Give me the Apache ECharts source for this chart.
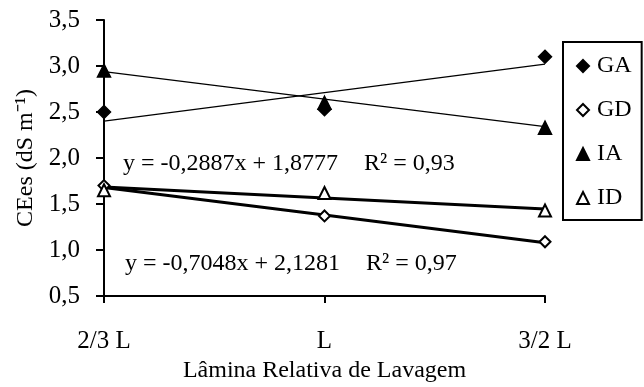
<!DOCTYPE html>
<html>
<head>
<meta charset="utf-8">
<script src="https://cdn.jsdelivr.net/npm/echarts@6/dist/echarts.min.js"></script>
<style>
  html, body { margin: 0; padding: 0; background: #fff; }
  #chart { width: 644px; height: 387px; }
</style>
</head>
<body>
<div id="chart"></div>
<script>
const categories = ["2/3 L", "L", "3/2 L"];

// observed points
const gaValues = [2.50, 2.53, 3.10];
const gdValues = [1.70, 1.37, 1.09];
const iaValues = [2.95, 2.60, 2.33];
const idValues = [1.65, 1.62, 1.43];

// trend lines
const gaTrend = [2.40, 2.71, 3.02];
const iaTrend = [2.94, 2.64, 2.34];
const idTrend = [1.685, 1.565, 1.445];
const gdTrend = [1.68, 1.38, 1.08];

const yTicks = { min: 0.5, max: 3.5, interval: 0.5 };

const eqId = "y = -0,2887x + 1,8777";
const r2Id = "R\u00B2 = 0,93";
const eqGd = "y = -0,7048x + 2,1281";
const r2Gd = "R\u00B2 = 0,97";

const font = "Liberation Serif";
const chart = echarts.init(document.getElementById("chart"), null, { renderer: "canvas" });

const pointSeries = (name, data, symbol, size) => ({
  type: "line",
  name,
  data,
  symbol,
  symbolSize: size,
  lineStyle: { width: 0, opacity: 0 },
  itemStyle: { color: "#000", borderColor: "#000", borderWidth: 1.5 },
  z: 5,
});

const trendSeries = (data, width) => ({
  type: "line",
  data,
  symbol: "none",
  lineStyle: { color: "#000", width },
  silent: true,
  z: 3,
});

const eqText = (text, left, y) => ({
  type: "text",
  left,
  top: y - 12,
  style: { text, fontFamily: font, fontSize: 24, fill: "#000" },
});

const options = {
  backgroundColor: "#fff",
  animation: false,
  textStyle: { fontFamily: font, color: "#000" },
  grid: {
    left: 104,
    right: 99,
    top: 20,
    bottom: 91,
    containLabel: false,
    outerBoundsMode: "none",
  },
  legend: {
    orient: "vertical",
    left: 563,
    top: 42,
    padding: [12, 10, 10, 13],
    itemGap: 20,
    itemWidth: 12,
    itemHeight: 12,
    borderColor: "#000",
    borderWidth: 2,
    textStyle: { fontFamily: font, fontSize: 24, color: "#000", padding: [0, 0, 0, 3] },
    data: [
      { name: "GA", icon: "diamond" },
      { name: "GD", icon: "emptyDiamond" },
      { name: "IA", icon: "triangle" },
      { name: "ID", icon: "emptyTriangle" },
    ],
  },
  xAxis: {
    type: "category",
    data: categories,
    boundaryGap: false,
    name: "Lâmina Relativa de Lavagem",
    nameLocation: "middle",
    nameGap: 62,
    nameTextStyle: { fontFamily: font, fontSize: 24, color: "#000" },
    axisLine: { lineStyle: { color: "#000", width: 2 } },
    axisTick: { show: true, length: 7, lineStyle: { color: "#000", width: 2 } },
    axisLabel: { fontFamily: font, fontSize: 25, color: "#000", margin: 33 },
    splitLine: { show: false },
  },
  yAxis: {
    type: "value",
    min: yTicks.min,
    max: yTicks.max,
    interval: yTicks.interval,
    name: "CEes (dS m\u207B\u00B9)",
    nameLocation: "middle",
    nameGap: 65,
    nameRotate: 90,
    nameTextStyle: { fontFamily: font, fontSize: 24, color: "#000" },
    axisLine: { show: true, lineStyle: { color: "#000", width: 2 } },
    axisTick: { show: true, length: 8, lineStyle: { color: "#000", width: 2 } },
    axisLabel: {
      fontFamily: font,
      fontSize: 25,
      color: "#000",
      margin: 24,
      formatter: (v) => v.toFixed(1).replace(".", ","),
    },
    splitLine: { show: false },
  },
  graphic: [
    eqText(eqId, 123, 164),
    eqText(r2Id, 364, 164),
    eqText(eqGd, 125, 264),
    eqText(r2Gd, 366, 264),
  ],
  series: [
    trendSeries(gaTrend, 1.3),
    trendSeries(iaTrend, 1.3),
    trendSeries(idTrend, 3),
    trendSeries(gdTrend, 3),
    pointSeries("GA", gaValues, "diamond", 13),
    pointSeries("GD", gdValues, "emptyDiamond", 11),
    pointSeries("IA", iaValues, "triangle", 13),
    pointSeries("ID", idValues, "emptyTriangle", 12),
  ],
};

chart.setOption(options);
</script>
</body>
</html>
